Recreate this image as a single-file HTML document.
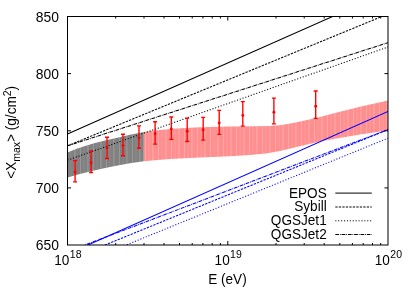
<!DOCTYPE html><html><head><meta charset="utf-8"><style>html,body{margin:0;padding:0;background:#fff}svg{display:block}text{font-family:"Liberation Sans",sans-serif;fill:#000}</style></head><body>
<svg width="413" height="289" viewBox="0 0 413 289">
<rect width="413" height="289" fill="#fff"/>
<defs><clipPath id="c"><rect x="67.5" y="16.5" width="320.5" height="228.5"/></clipPath>
<pattern id="pp" width="13" height="4" patternUnits="userSpaceOnUse"><rect width="13" height="4" fill="#ff8e8e"/><rect x="2" width="1" height="4" fill="#ffa6a6"/><rect x="5.6" width="0.9" height="4" fill="#ff9c9c"/><rect x="9.3" width="1.2" height="4" fill="#ffa8a8"/></pattern>
<pattern id="pg" width="13" height="4" patternUnits="userSpaceOnUse"><rect width="13" height="4" fill="#818181"/><rect x="2" width="1" height="4" fill="#969696"/><rect x="5.6" width="0.9" height="4" fill="#8a8a8a"/><rect x="9.3" width="1.2" height="4" fill="#989898"/></pattern>
</defs>
<polygon points="67.5,152.5 76.0,149.1 85.0,146.0 95.0,143.0 104.0,140.7 115.0,138.2 130.0,134.7 143.8,132.1 143.8,161.3 130.0,163.3 115.0,166.0 104.0,168.3 90.0,171.5 80.0,174.0 67.5,177.5" fill="url(#pg)"/>
<polygon points="143.8,132.1 155.0,130.6 170.0,129.1 185.0,128.0 200.0,127.3 230.0,126.5 255.0,126.3 270.0,126.1 280.0,125.2 290.5,123.6 305.0,120.4 320.0,116.9 335.0,113.0 360.0,106.8 388.0,100.5 388.0,130.4 360.0,134.5 335.0,138.8 320.0,141.5 305.0,145.0 290.5,148.5 280.0,151.1 266.0,153.4 250.0,155.0 230.0,156.3 200.0,157.6 185.0,158.3 170.0,159.1 155.0,160.2 143.8,161.3" fill="url(#pp)"/>
<g clip-path="url(#c)" fill="none" stroke-width="1.05">
<line x1="67.50" y1="133.95" x2="388.00" y2="-8.06" stroke="#000"/>
<line x1="67.50" y1="145.83" x2="388.00" y2="13.99" stroke="#000" stroke-dasharray="2.3,1.2"/>
<line x1="67.50" y1="160.11" x2="388.00" y2="47.00" stroke="#000" stroke-dasharray="1.1,1.8"/>
<line x1="67.50" y1="145.83" x2="388.00" y2="42.66" stroke="#000" stroke-dasharray="3.7,0.9,0.8,0.9"/>
<line x1="78.00" y1="249.45" x2="388.00" y2="111.50" stroke="#0000ff"/>
<line x1="95.00" y1="249.08" x2="388.00" y2="129.60" stroke="#0000ff" stroke-dasharray="2.3,1.2"/>
<line x1="116.20" y1="249.08" x2="388.00" y2="138.20" stroke="#0000ff" stroke-dasharray="1.1,1.8"/>
<line x1="75.00" y1="248.81" x2="388.00" y2="129.60" stroke="#0000ff" stroke-dasharray="3.7,0.9,0.8,0.9"/>
</g>
<g stroke="#ff0000" stroke-width="1.35" fill="#ff0000">
<path d="M75.1 160.5V181.8M73.1 160.5H77.1M73.1 181.8H77.1" fill="none"/>
<circle cx="75.1" cy="172.0" r="1.45" stroke="none"/>
<path d="M91.1 150.8V172.5M89.1 150.8H93.1M89.1 172.5H93.1" fill="none"/>
<circle cx="91.1" cy="162.7" r="1.45" stroke="none"/>
<path d="M107.0 137.2V158.5M105.0 137.2H109.0M105.0 158.5H109.0" fill="none"/>
<circle cx="107.0" cy="148.1" r="1.45" stroke="none"/>
<path d="M123.0 134.2V155.7M121.0 134.2H125.0M121.0 155.7H125.0" fill="none"/>
<circle cx="123.0" cy="145.6" r="1.45" stroke="none"/>
<path d="M139.0 125.9V148.2M137.0 125.9H141.0M137.0 148.2H141.0" fill="none"/>
<circle cx="139.0" cy="137.9" r="1.45" stroke="none"/>
<path d="M155.1 121.7V144.1M153.1 121.7H157.1M153.1 144.1H157.1" fill="none"/>
<circle cx="155.1" cy="133.8" r="1.45" stroke="none"/>
<path d="M171.3 117.0V139.3M169.3 117.0H173.3M169.3 139.3H173.3" fill="none"/>
<circle cx="171.3" cy="129.0" r="1.45" stroke="none"/>
<path d="M187.2 118.1V141.5M185.2 118.1H189.2M185.2 141.5H189.2" fill="none"/>
<circle cx="187.2" cy="131.2" r="1.45" stroke="none"/>
<path d="M203.2 117.3V140.1M201.2 117.3H205.2M201.2 140.1H205.2" fill="none"/>
<circle cx="203.2" cy="129.8" r="1.45" stroke="none"/>
<path d="M219.2 110.3V134.3M217.2 110.3H221.2M217.2 134.3H221.2" fill="none"/>
<circle cx="219.2" cy="122.9" r="1.45" stroke="none"/>
<path d="M242.8 101.6V126.1M240.8 101.6H244.8M240.8 126.1H244.8" fill="none"/>
<circle cx="242.8" cy="115.4" r="1.45" stroke="none"/>
<path d="M273.9 98.1V123.9M271.9 98.1H275.9M271.9 123.9H275.9" fill="none"/>
<circle cx="273.9" cy="112.3" r="1.45" stroke="none"/>
<path d="M315.7 91.0V118.3M313.7 91.0H317.7M313.7 118.3H317.7" fill="none"/>
<circle cx="315.7" cy="106.3" r="1.45" stroke="none"/>
</g>
<g stroke="#000" stroke-width="1" fill="none">
<rect x="67.5" y="16.5" width="320.5" height="228.5"/>
<path d="M67.5 187.9h3.5M388.0 187.9h-3.5M67.5 130.8h3.5M388.0 130.8h-3.5M67.5 73.6h3.5M388.0 73.6h-3.5M115.7 245.0v-2.0M115.7 16.5v2.0M144.0 245.0v-2.0M144.0 16.5v2.0M164.0 245.0v-2.0M164.0 16.5v2.0M179.5 245.0v-2.0M179.5 16.5v2.0M192.2 245.0v-2.0M192.2 16.5v2.0M202.9 245.0v-2.0M202.9 16.5v2.0M212.2 245.0v-2.0M212.2 16.5v2.0M220.4 245.0v-2.0M220.4 16.5v2.0M227.8 245.0v-4.0M227.8 16.5v4.0M276.0 245.0v-2.0M276.0 16.5v2.0M304.2 245.0v-2.0M304.2 16.5v2.0M324.2 245.0v-2.0M324.2 16.5v2.0M339.8 245.0v-2.0M339.8 16.5v2.0M352.4 245.0v-2.0M352.4 16.5v2.0M363.2 245.0v-2.0M363.2 16.5v2.0M372.5 245.0v-2.0M372.5 16.5v2.0M380.7 245.0v-2.0M380.7 16.5v2.0"/>
</g>
<g opacity="0.999">
<text transform="translate(58.9,250.0) scale(1,1.08)" font-size="13.9" text-anchor="end">650</text>
<text transform="translate(58.9,192.9) scale(1,1.08)" font-size="13.9" text-anchor="end">700</text>
<text transform="translate(58.9,135.8) scale(1,1.08)" font-size="13.9" text-anchor="end">750</text>
<text transform="translate(58.9,78.6) scale(1,1.08)" font-size="13.9" text-anchor="end">800</text>
<text transform="translate(58.9,21.5) scale(1,1.08)" font-size="13.9" text-anchor="end">850</text>
<text transform="translate(54.3,264.5) scale(1,1.08)" font-size="13.6" text-anchor="start">10<tspan dx="0.4" dy="-6.3" font-size="10.5">18</tspan></text>
<text transform="translate(214.6,264.5) scale(1,1.08)" font-size="13.6" text-anchor="start">10<tspan dx="0.4" dy="-6.3" font-size="10.5">19</tspan></text>
<text transform="translate(374.8,264.5) scale(1,1.08)" font-size="13.6" text-anchor="start">10<tspan dx="0.4" dy="-6.3" font-size="10.5">20</tspan></text>
<text transform="translate(227.4,284.2) scale(1,1.08)" font-size="13.6" text-anchor="middle">E (eV)</text>
<text transform="translate(16.2,132.3) rotate(-90) scale(1,1.08)" font-size="13.6" text-anchor="middle">&lt;X<tspan dy="3.3" font-size="10.5">max</tspan><tspan dy="-3.3">&gt; (g/cm</tspan><tspan dy="-5" font-size="10.5">2</tspan><tspan dy="5">)</tspan></text>
<text transform="translate(326.7,197.7) scale(1,1.08)" font-size="13.6" text-anchor="end">EPOS</text>
<line x1="335.3" y1="193.1" x2="371.8" y2="193.1" stroke="#000" stroke-width="1"/>
<text transform="translate(326.7,211.2) scale(1,1.08)" font-size="13.6" text-anchor="end">Sybill</text>
<line x1="335.3" y1="207.0" x2="371.8" y2="207.0" stroke="#000" stroke-width="1" stroke-dasharray="2.3,1.2"/>
<text transform="translate(326.7,225.4) scale(1,1.08)" font-size="13.6" text-anchor="end">QGSJet1</text>
<line x1="335.3" y1="220.8" x2="371.8" y2="220.8" stroke="#000" stroke-width="1" stroke-dasharray="1.1,1.8"/>
<text transform="translate(326.7,238.7) scale(1,1.08)" font-size="13.6" text-anchor="end">QGSJet2</text>
<line x1="335.3" y1="234.5" x2="371.8" y2="234.5" stroke="#000" stroke-width="1" stroke-dasharray="3.7,0.9,0.8,0.9"/>
</g>
</svg></body></html>
